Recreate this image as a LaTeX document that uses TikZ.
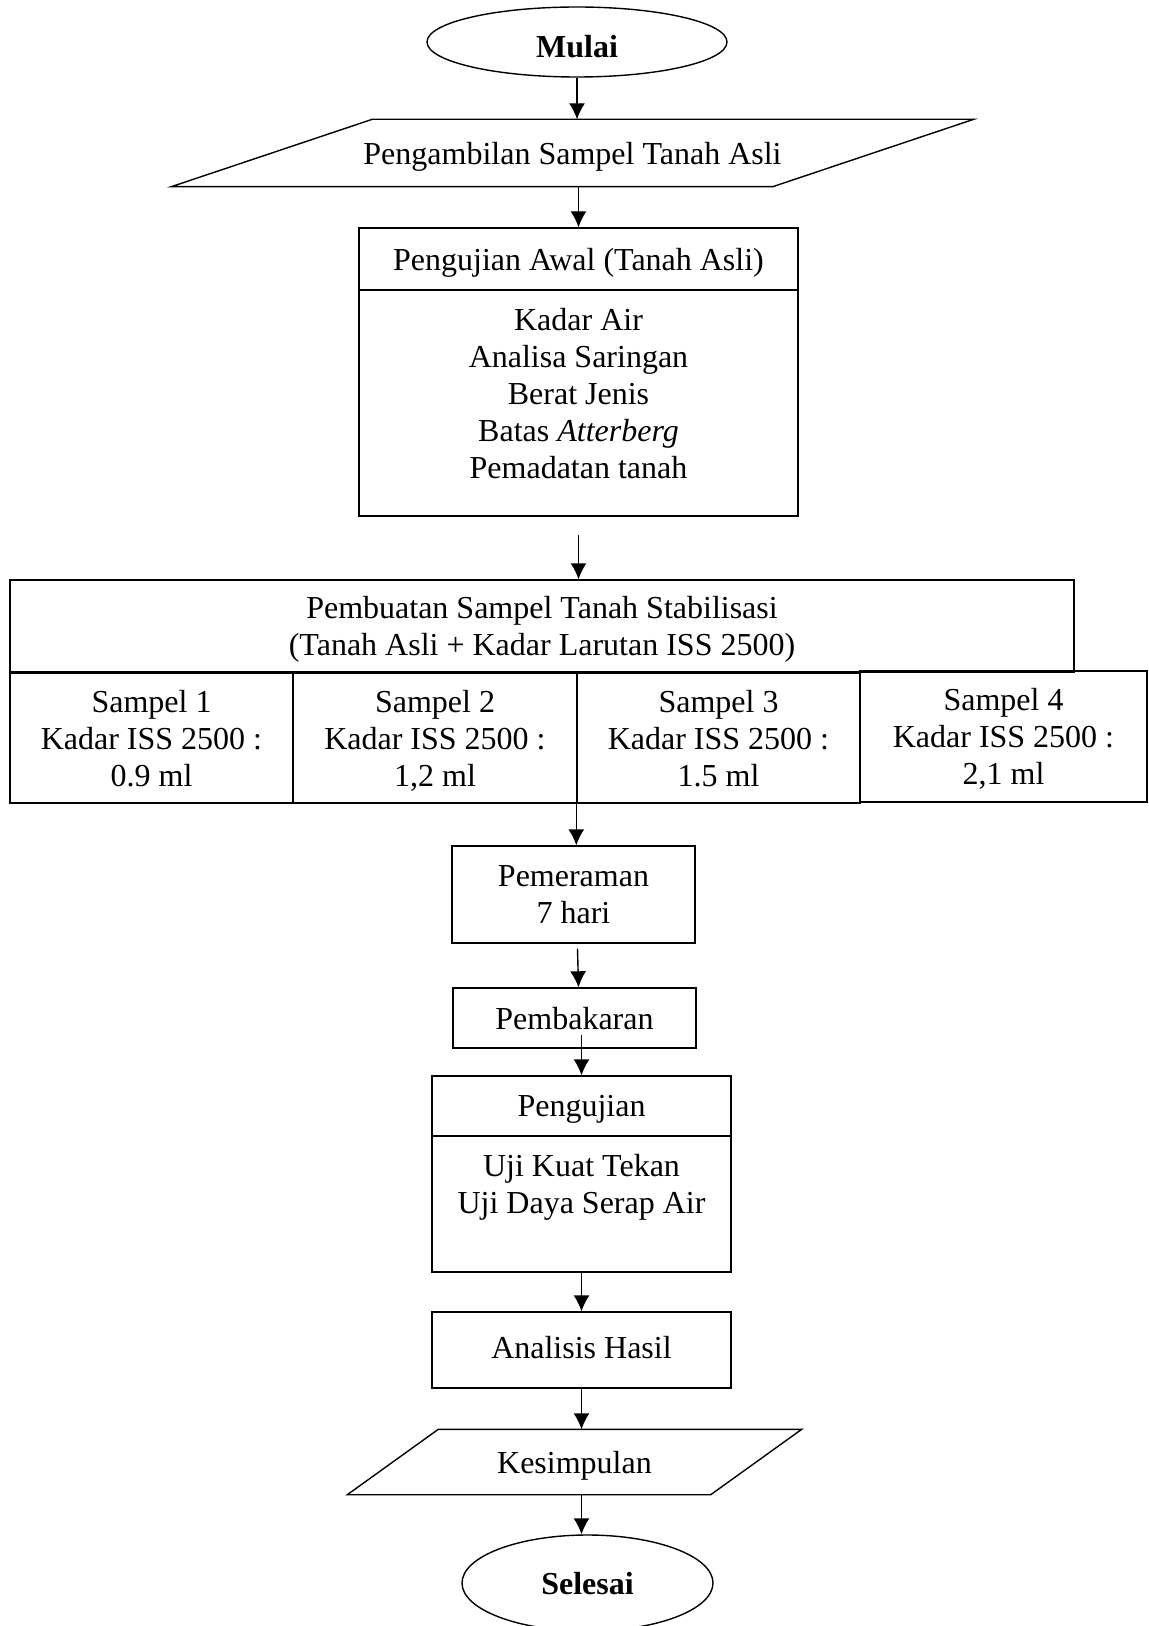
\documentclass[tikz,border=0pt]{standalone}
\usepackage{fontspec}
\setmainfont{Liberation Serif}
\usetikzlibrary{shapes.geometric,arrows.meta}

\begin{document}
\begin{tikzpicture}[x=0.5pt, y=-0.5pt, line width=0.7pt,
    kotak/.style={draw, rectangle, inner sep=2pt, align=center, text depth=0pt, font=\fontsize{16}{18.5}\selectfont},
    teks/.style={inner sep=0pt, align=center, text depth=0pt, font=\fontsize{16}{18.5}\selectfont},
    oval/.style={draw, ellipse, inner sep=0pt, text depth=0pt, font=\fontsize{16}{18.5}\selectfont\bfseries},
    panah/.style={-{Latex[length=8pt,width=8pt]}}]
    \useasboundingbox (0,0) rectangle (1149,1626);
    \node[oval, minimum width=150pt, minimum height=35pt, text height=16pt] (mulai) at (577,42) {Mulai};
    \node[teks, minimum width=300pt, minimum height=33pt] (ambil) at (572.5,153) {Pengambilan Sampel Tanah Asli};
    \draw ([xshift=-50.25pt]ambil.south west) -- ([xshift=50.25pt]ambil.north west) -- ([xshift=50.25pt]ambil.north east) -- ([xshift=-50.25pt]ambil.south east) -- cycle;
    \node[kotak, minimum width=219.5pt, minimum height=31pt] (awal) at (578.5,259) {Pengujian Awal (Tanah Asli)};
    \node[kotak, minimum width=219.5pt, minimum height=113pt] (awalisi) at (578.5,403) {};
    \node[teks] (awaldaftar) at (578.5,393) {Kadar Air\\Analisa Saringan\\Berat Jenis\\Batas \textit{Atterberg}\\Pemadatan tanah};
    \node[kotak, minimum width=532pt, minimum height=46pt, text depth=-3.5pt] (buat) at (542,626) {Pembuatan Sampel Tanah Stabilisasi\\(Tanah Asli + Kadar Larutan ISS 2500)};
    \node[kotak, minimum width=141.5pt, minimum height=65pt] (sampel1) at (151.5,738) {Sampel 1\\Kadar ISS 2500 :\\0.9 ml};
    \node[kotak, minimum width=142pt, minimum height=65pt] (sampel2) at (435,738) {Sampel 2\\Kadar ISS 2500 :\\1,2 ml};
    \node[kotak, minimum width=141.5pt, minimum height=65pt] (sampel3) at (718.5,738) {Sampel 3\\Kadar ISS 2500 :\\1.5 ml};
    \node[kotak, minimum width=143.5pt, minimum height=65.5pt] (sampel4) at (1003.5,736.5) {Sampel 4\\Kadar ISS 2500 :\\2,1 ml};
    \node[kotak, minimum width=121.5pt, minimum height=48.5pt] (peram) at (573.5,894.5) {Pemeraman\\7 hari};
    \node[kotak, minimum width=121.5pt, minimum height=30pt] (bakar) at (574.5,1018) {Pembakaran};
    \node[kotak, minimum width=149.5pt, minimum height=30pt] (uji) at (581.5,1106) {Pengujian};
    \node[kotak, minimum width=149.5pt, minimum height=68pt] (ujiisi) at (581.5,1204) {};
    \node[teks] (ujidaftar) at (581.5,1184) {Uji Kuat Tekan\\Uji Daya Serap Air};
    \node[kotak, minimum width=149.5pt, minimum height=38pt, text height=8pt] (hasil) at (581.5,1350) {Analisis Hasil};
    \node[teks, minimum width=181pt, minimum height=32pt] (simpul) at (574.5,1462) {Kesimpulan};
    \draw ([xshift=-22.75pt]simpul.south west) -- ([xshift=22.75pt]simpul.north west) -- ([xshift=22.75pt]simpul.north east) -- ([xshift=-22.75pt]simpul.south east) -- cycle;
    \node[oval, minimum width=125.5pt, minimum height=48pt] (selesai) at (587.5,1583) {Selesai};
    \draw[panah] (mulai.south) -- (mulai.south |- ambil.north);
    \draw[panah] (ambil.south -| awal.north) -- (awal.north);
    \draw[panah] ([yshift=-9pt]awalisi.south) -- (awalisi.south |- buat.north);
    \draw[panah] (sampel3.south west) -- (sampel3.south west |- peram.north);
    \draw[panah] ([xshift=2pt,yshift=-2.5pt]peram.south) -- ([xshift=2pt]bakar.north);
    \draw[panah] ([yshift=7pt]bakar.south -| uji.north) -- (uji.north);
    \draw[panah] (ujiisi.south) -- (hasil.north);
    \draw[panah] (hasil.south) -- (hasil.south |- simpul.north);
    \draw[panah] (simpul.south -| hasil.south) -- (hasil.south |- selesai.north);
  \end{tikzpicture}
\end{document}
